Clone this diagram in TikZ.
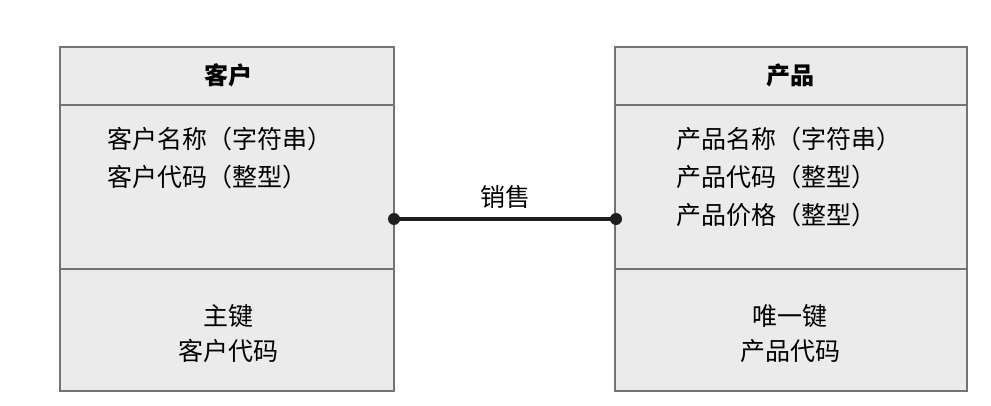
\documentclass[tikz,border=0pt]{standalone}
\usepackage{fontspec}
\newfontfamily\cjk{Noto Sans CJK SC}
\begin{document}
\begin{tikzpicture}[x=1pt,y=-1pt,
  boxfill/.style={fill=black!8,draw=black!55,line width=1.2pt},
  divider/.style={draw=black!55,line width=1.2pt},
  hdr/.style={font=\cjk\bfseries\fontsize{24}{28}\selectfont,inner sep=0pt},
  txt/.style={font=\cjk\fontsize{25}{29}\selectfont,inner sep=0pt,anchor=west},
  ctxt/.style={font=\cjk\fontsize{25}{29}\selectfont,inner sep=0pt},
  dotline/.style={line width=3.6pt,draw=black!88},
  enddot/.style={circle,fill=black!88,minimum size=12pt,inner sep=0pt}]
\useasboundingbox (0,0) rectangle (991,406);
\fill[white] (0,0) rectangle (991,406);
% left box
\path[boxfill] (60,47) rectangle (394,391);
\draw[divider] (60,105) -- (394,105);
\draw[divider] (60,269) -- (394,269);
\node[hdr] (lh) at (228,75) {客户};
\node[txt] (l1) at (107,139) {客户名称（字符串）};
\node[txt] (l2) at (107,177) {客户代码（整型）};
\node[ctxt] (lk1) at (228,316) {主键};
\node[ctxt] (lk2) at (228,351) {客户代码};
% right box
\path[boxfill] (615,47) rectangle (967,391);
\draw[divider] (615,105) -- (967,105);
\draw[divider] (615,269) -- (967,269);
\node[hdr] (rh) at (790,75) {产品};
\node[txt] (r1) at (676,139) {产品名称（字符串）};
\node[txt] (r2) at (676,177) {产品代码（整型）};
\node[txt] (r3) at (676,215) {产品价格（整型）};
\node[ctxt] (rk1) at (790,316) {唯一键};
\node[ctxt] (rk2) at (790,351) {产品代码};
% connector
\node[enddot] (da) at (394,219) {};
\node[enddot] (db) at (616,219) {};
\draw[dotline] (da.center) -- (db.center);
\node[ctxt] (lbl) at (505,197) {销售};
\end{tikzpicture}
\end{document}
